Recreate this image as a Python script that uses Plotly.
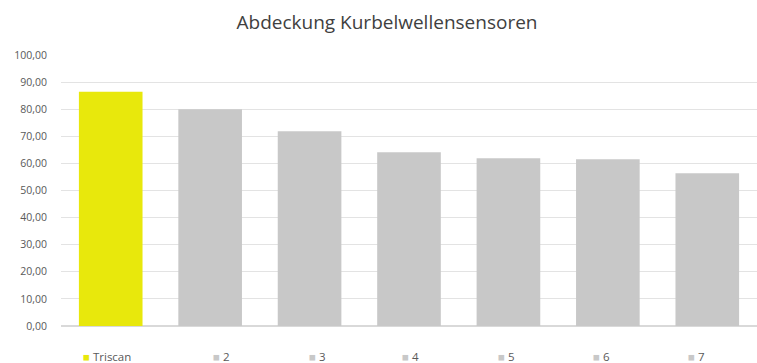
import plotly.graph_objects as go

categories = ["Triscan", "2", "3", "4", "5", "6", "7"]
values = [86.4, 80.0, 71.9, 64.1, 61.9, 61.5, 56.4]
colors = ["#E8E80C", "#C8C8C8", "#C8C8C8", "#C8C8C8", "#C8C8C8", "#C8C8C8", "#C8C8C8"]
legend_px = [81, 211, 307, 400, 496, 591, 686]

W, H = 757, 363
ML, MR, MT, MB = 61, 0, 55, 37
pw = W - ML - MR
ph = H - MT - MB

fig = go.Figure(go.Bar(
    x=categories, y=values, marker=dict(color=colors, line=dict(width=0)),
    width=0.64, showlegend=False,
))

for name, col, px in zip(categories, colors, legend_px):
    fig.add_annotation(
        x=(px - ML) / pw, y=-(356 - (H - MB)) / ph, xref="paper", yref="paper",
        xanchor="left", yanchor="middle", showarrow=False,
        text=f'<span style="color:{col}">■</span> {name}',
        font=dict(family="Open Sans", size=11.5, color="#595959"),
    )

fig.update_layout(
    width=W, height=H,
    margin=dict(l=ML, r=MR, t=MT, b=MB),
    paper_bgcolor="white", plot_bgcolor="white",
    separators=",.",
    title=dict(text="Abdeckung Kurbelwellensensoren", x=387 / W, xanchor="center",
               y=1 - 22 / H, yanchor="middle",
               font=dict(family="Open Sans", size=19, color="#404040")),
    xaxis=dict(showticklabels=False, showline=False, showgrid=False, ticks="",
               range=[-0.5, 6.5]),
    yaxis=dict(range=[0, 100], dtick=10, tickformat=".2f", showgrid=True,
               gridcolor="#E3E3E3", gridwidth=1, zeroline=True, zerolinecolor="#D9D9D9",
               ticks="", ticklabelstandoff=13,
               tickfont=dict(family="Open Sans", size=10.5, color="#595959")),
)

fig.write_html("out.html")
